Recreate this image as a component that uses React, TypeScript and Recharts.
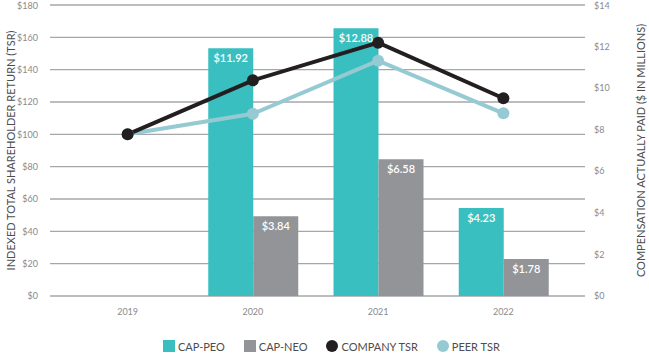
import React from 'react';
import { ComposedChart, Bar, Line, XAxis, YAxis, CartesianGrid, LabelList, Legend } from 'recharts';

const years = ['2019', '2020', '2021', '2022'];
const capPeo = [null, 11.92, 12.88, 4.23];
const capNeo = [null, 3.84, 6.58, 1.78];
const companyTsr = [100, 133.4, 156.7, 122.3];
const peerTsr = [100, 112.7, 145.5, 113];
const tsrTicks = [0, 20, 40, 60, 80, 100, 120, 140, 160, 180];
const capTicks = [0, 2, 4, 6, 8, 10, 12, 14];

const data = years.map((year, i) => ({
  year,
  capPeo: capPeo[i],
  capNeo: capNeo[i],
  companyTsr: companyTsr[i],
  peerTsr: peerTsr[i],
}));

const TEAL = '#3abfc1';
const GREY = '#929497';
const BLACK = '#231f20';
const PEER = '#96cad3';
const FONT = 'Lato, "Open Sans", sans-serif';

const legendItems = [
  { label: 'CAP-PEO', color: TEAL, shape: 'square' },
  { label: 'CAP-NEO', color: GREY, shape: 'square' },
  { label: 'COMPANY TSR', color: BLACK, shape: 'circle' },
  { label: 'PEER TSR', color: PEER, shape: 'circle' },
];

const money = (v: number) => `$${v}`;

// rotated axis title, placed from the axis box
const AxisTitle = (props: any) => {
  const { viewBox, value, dx } = props;
  const x = viewBox.x + dx;
  const y = viewBox.y + viewBox.height / 2;
  return (
    <text
      x={x}
      y={y}
      transform={`rotate(-90 ${x} ${y})`}
      textAnchor="middle"
      dominantBaseline="central"
      fontSize={11}
      fill="#4d4d4f"
      fontFamily={FONT}
    >
      {value}
    </text>
  );
};

const renderLegend = () => (
  <div style={{ display: 'flex', alignItems: 'center', height: 18, paddingLeft: 163, fontSize: 11, color: '#4d4d4f', fontFamily: FONT }}>
    {legendItems.map((it) => (
      <div key={it.label} style={{ display: 'flex', alignItems: 'center', marginRight: 19 }}>
        <span
          style={{
            display: 'inline-block',
            width: 12,
            height: 12,
            background: it.color,
            borderRadius: it.shape === 'circle' ? '50%' : 0,
            marginRight: 3,
          }}
        />
        <span>{it.label}</span>
      </div>
    ))}
  </div>
);

export default function App() {
  return (
    <div style={{ width: 649, height: 355, fontFamily: FONT }}>
      <style>{'body{margin:0}'}</style>
      <ComposedChart
        width={649}
        height={355}
        data={data}
        margin={{ top: 5, right: 0, bottom: 0, left: 0 }}
        barGap={0}
      >
        <CartesianGrid yAxisId="tsr" vertical={false} stroke="#a5a7aa" strokeWidth={1.3} />
        <XAxis
          dataKey="year"
          height={41}
          padding={{ left: 15, right: 19 }}
          tickLine={false}
          axisLine={false}
          tickMargin={7}
          tick={{ fontSize: 9, fill: '#8a8a8c', fontFamily: FONT }}
        />
        <YAxis
          yAxisId="tsr"
          orientation="left"
          width={50}
          domain={[0, 180]}
          ticks={tsrTicks}
          tickFormatter={money}
          tickLine={false}
          axisLine={false}
          tickMargin={6}
          tick={{ fontSize: 9, fill: '#8a8a8c', fontFamily: FONT }}
          label={<AxisTitle value="INDEXED TOTAL SHAREHOLDER RETURN (TSR)" dx={10} />}
        />
        <YAxis
          yAxisId="cap"
          orientation="right"
          width={64}
          domain={[0, 14]}
          ticks={capTicks}
          tickFormatter={money}
          tickLine={false}
          axisLine={false}
          tickMargin={3}
          tick={{ fontSize: 9, fill: '#8a8a8c', fontFamily: FONT }}
          label={<AxisTitle value="COMPENSATION ACTUALLY PAID ($ IN MILLIONS)" dx={55} />}
        />
        <Legend verticalAlign="bottom" height={18} content={renderLegend} />
        <Bar yAxisId="cap" dataKey="capPeo" name="CAP-PEO" fill={TEAL} barSize={45} isAnimationActive={false}>
          <LabelList
            dataKey="capPeo"
            position="insideTop"
            offset={6}
            formatter={(v: any) => (v == null ? '' : `$${Number(v).toFixed(2)}`)}
            style={{ fill: '#fff', fontSize: 11, fontWeight: 600, fontFamily: FONT }}
          />
        </Bar>
        <Bar yAxisId="cap" dataKey="capNeo" name="CAP-NEO" fill={GREY} barSize={45} isAnimationActive={false}>
          <LabelList
            dataKey="capNeo"
            position="insideTop"
            offset={6}
            formatter={(v: any) => (v == null ? '' : `$${Number(v).toFixed(2)}`)}
            style={{ fill: '#fff', fontSize: 11, fontWeight: 600, fontFamily: FONT }}
          />
        </Bar>
        <Line
          yAxisId="tsr"
          dataKey="peerTsr"
          name="PEER TSR"
          stroke={PEER}
          strokeWidth={4}
          dot={{ r: 6, fill: PEER, stroke: PEER, strokeWidth: 0 }}
          activeDot={false}
          isAnimationActive={false}
        />
        <Line
          yAxisId="tsr"
          dataKey="companyTsr"
          name="COMPANY TSR"
          stroke={BLACK}
          strokeWidth={4}
          dot={{ r: 6, fill: BLACK, stroke: BLACK, strokeWidth: 0 }}
          activeDot={false}
          isAnimationActive={false}
        />
      </ComposedChart>
    </div>
  );
}
